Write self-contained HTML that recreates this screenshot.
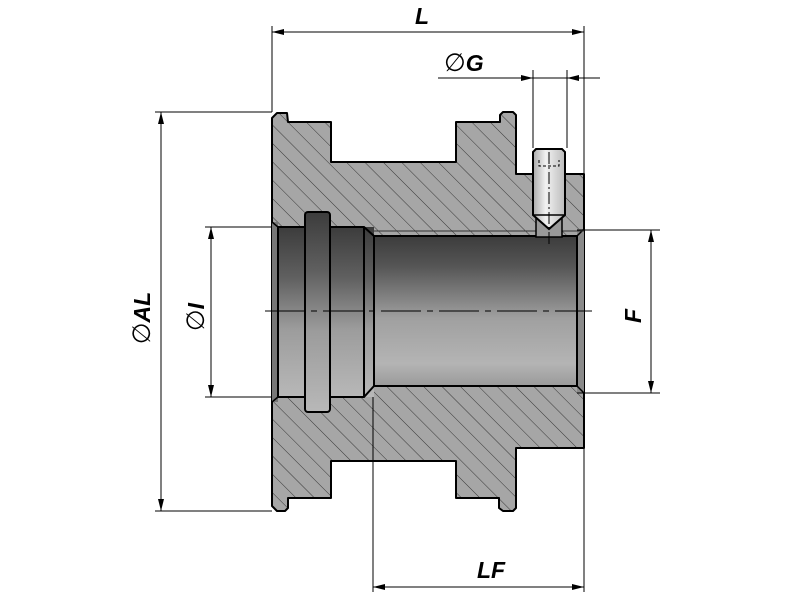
<!DOCTYPE html>
<html><head><style>html,body{margin:0;padding:0;background:#fff}svg{display:block}</style></head>
<body>
<svg width="800" height="600" viewBox="0 0 800 600" xmlns="http://www.w3.org/2000/svg">
<defs>
<pattern id="h" width="13" height="13" patternUnits="userSpaceOnUse" patternTransform="rotate(-45)">
<rect width="13" height="13" fill="#a6a6a6"/><line x1="0" y1="0" x2="0" y2="13" stroke="#2a2a2a" stroke-width="0.9"/>
</pattern>
<linearGradient id="b" x1="0" y1="0" x2="0" y2="1">
<stop offset="0" stop-color="#3c3c3c"/><stop offset="0.2" stop-color="#555"/><stop offset="0.45" stop-color="#8a8a8a"/><stop offset="0.55" stop-color="#a0a0a0"/><stop offset="0.85" stop-color="#b4b4b4"/><stop offset="1" stop-color="#9a9a9a"/>
</linearGradient>
<linearGradient id="g" x1="0" y1="0" x2="0" y2="1">
<stop offset="0" stop-color="#3c3c3c"/><stop offset="0.3" stop-color="#606060"/><stop offset="0.6" stop-color="#9c9c9c"/><stop offset="1" stop-color="#b8b8b8"/>
</linearGradient>
<linearGradient id="s" x1="0" y1="0" x2="1" y2="0">
<stop offset="0" stop-color="#aaa"/><stop offset="0.4" stop-color="#f2f2f2"/><stop offset="1" stop-color="#bbb"/>
</linearGradient>
<marker id="a" viewBox="0 0 12 6" refX="12" refY="3" markerWidth="12" markerHeight="6" markerUnits="userSpaceOnUse" orient="auto-start-reverse"><path d="M0,0L12,3L0,6z" fill="#000"/></marker>
</defs>

<path d="M272,118 L277,113 L287,113 L288,122 L331,122 L331,162 L456,162 L456,122 L500,122 L500,115 L503,112 L513,112 L516,115 L516,174 L584,174 L584,448 L516,448 L516,508 L513,511 L503,511 L499,508 L499,498 L456,498 L456,461 L331,461 L331,498 L288,498 L288,508 L285,511 L277,511 L272,506 Z" fill="url(#h)" stroke="#000" stroke-width="2" stroke-linejoin="round"/>

<rect x="272" y="227" width="102" height="170" fill="url(#g)"/>
<rect x="374" y="236" width="210" height="150" fill="url(#b)"/>
<rect x="577" y="229" width="7" height="164" fill="#8a8a8a"/>
<rect x="272" y="222" width="6" height="180" fill="#777"/>
<path d="M374,236 L374,386 M577,236 L577,386 M374,236 L577,236 M374,386 L577,386" stroke="#000" stroke-width="2" fill="none"/>
<path d="M278,227 L364,227 L374,236 M278,397 L364,397 L374,386 M278,227 L278,397 M364,227 L364,397" stroke="#000" stroke-width="2" fill="none"/>
<line x1="272" y1="222" x2="278" y2="227" stroke="#000" stroke-width="1.5"/>
<line x1="272" y1="402" x2="278" y2="397" stroke="#000" stroke-width="1.5"/>
<line x1="584" y1="229" x2="577" y2="236" stroke="#000" stroke-width="1.5"/>
<line x1="584" y1="393" x2="577" y2="386" stroke="#000" stroke-width="1.5"/>
<line x1="374" y1="231" x2="584" y2="231" stroke="#333" stroke-width="1"/>
<rect x="305" y="212" width="25" height="200" rx="3" fill="url(#g)" stroke="#000" stroke-width="2"/>

<path d="M536,215 L536,237 L562,237 L562,215 Z" fill="#999" stroke="#000" stroke-width="1.5"/>
<path d="M533,152 L536,149 L562,149 L565,152 L565,215 L549,229 L533,215 Z" fill="url(#s)" stroke="#000" stroke-width="2"/>
<line x1="533" y1="215" x2="565" y2="215" stroke="#000" stroke-width="1.5"/>
<path d="M539,160 L539,166 L559,166 L559,160" stroke="#000" stroke-width="1" fill="none" stroke-dasharray="3,2"/>
<line x1="549" y1="152" x2="549" y2="244" stroke="#000" stroke-width="1" stroke-dasharray="12,3,2,3"/>

<line x1="265" y1="311" x2="592" y2="311" stroke="#000" stroke-width="1" stroke-dasharray="40,6,6,6"/>

<g stroke="#000" stroke-width="1" fill="none">
<line x1="272" y1="26" x2="272" y2="112"/>
<line x1="584" y1="26" x2="584" y2="228"/>
<line x1="533" y1="70" x2="533" y2="148"/>
<line x1="567" y1="70" x2="567" y2="148"/>
<line x1="155" y1="112" x2="272" y2="112"/>
<line x1="155" y1="511" x2="272" y2="511"/>
<line x1="205" y1="227" x2="272" y2="227"/>
<line x1="205" y1="397" x2="272" y2="397"/>
<line x1="577" y1="230" x2="660" y2="230"/>
<line x1="577" y1="393" x2="660" y2="393"/>
<line x1="373" y1="397" x2="373" y2="592"/>
<line x1="584" y1="448" x2="584" y2="592"/>
<line x1="438" y1="78" x2="600" y2="78"/>
<line x1="272" y1="32" x2="584" y2="32" marker-start="url(#a)" marker-end="url(#a)"/>
<line x1="500" y1="78" x2="533" y2="78" marker-end="url(#a)"/>
<line x1="600" y1="78" x2="567" y2="78" marker-end="url(#a)"/>
<line x1="161" y1="112" x2="161" y2="511" marker-start="url(#a)" marker-end="url(#a)"/>
<line x1="211" y1="227" x2="211" y2="397" marker-start="url(#a)" marker-end="url(#a)"/>
<line x1="651" y1="230" x2="651" y2="393" marker-start="url(#a)" marker-end="url(#a)"/>
<line x1="373" y1="587" x2="584" y2="587" marker-start="url(#a)" marker-end="url(#a)"/>
</g>

<g font-family="Liberation Sans, DejaVu Sans, sans-serif" font-weight="bold" font-style="italic" font-size="23" fill="#000">
<text x="415" y="24">L</text>
<text x="444" y="71"><tspan font-family="DejaVu Sans, sans-serif" font-weight="normal" font-style="normal" font-size="25">∅</tspan>G</text>
<text x="477" y="578">LF</text>
<text transform="translate(150,318) rotate(-90)" text-anchor="middle"><tspan font-family="DejaVu Sans, sans-serif" font-weight="normal" font-style="normal" font-size="25">∅</tspan>AL</text>
<text transform="translate(204,317) rotate(-90)" text-anchor="middle"><tspan font-family="DejaVu Sans, sans-serif" font-weight="normal" font-style="normal" font-size="25">∅</tspan>I</text>
<text transform="translate(641,316) rotate(-90)" text-anchor="middle">F</text>
</g>
</svg>
</body></html>
